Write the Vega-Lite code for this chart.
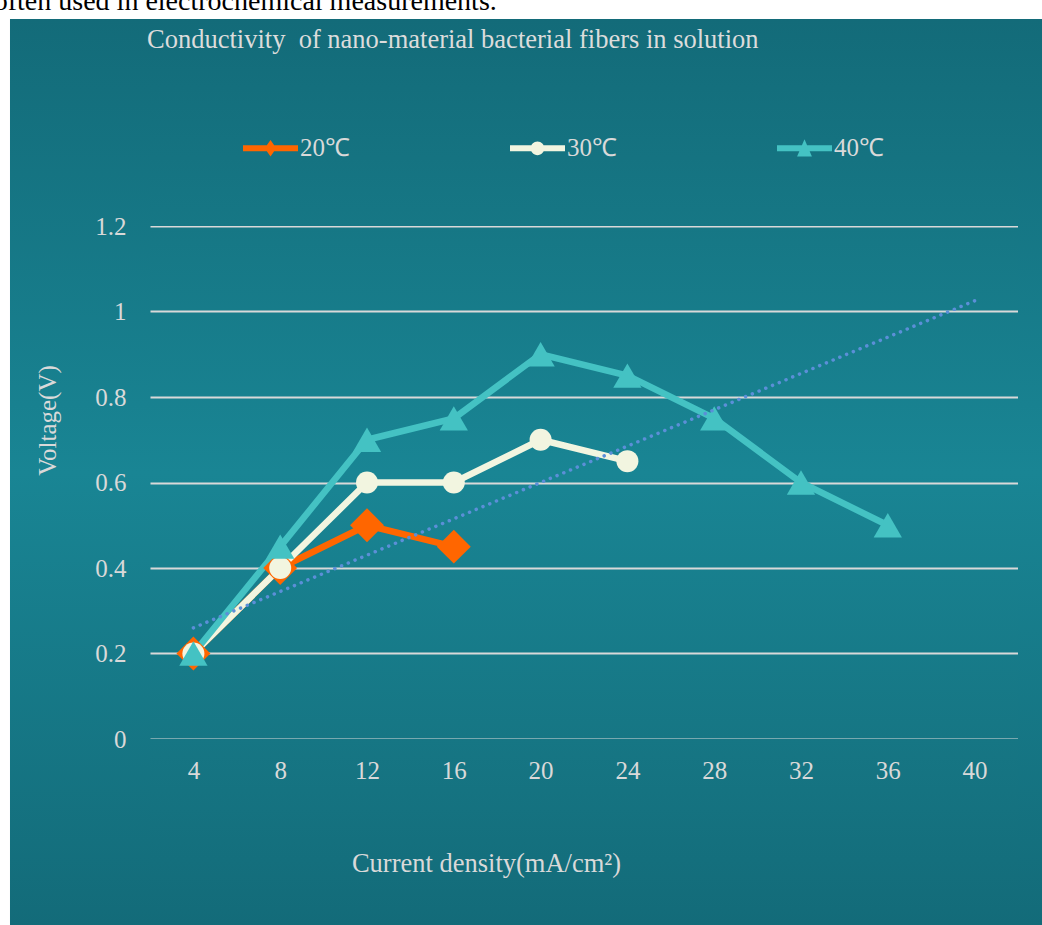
{
  "$schema": "https://vega.github.io/schema/vega-lite/v6.json",
  "width": 868,
  "height": 513,
  "autosize": {"type": "none"},
  "padding": {"left": 150, "top": 226, "right": 24, "bottom": 186},
  "background": "#ffffff",
  "config": {
    "font": "Liberation Serif",
    "view": {
      "stroke": null,
      "fill": {"gradient": "linear", "x1": 0, "y1": 0, "x2": 0, "y2": 1,
        "stops": [{"offset": 0, "color": "#167785"}, {"offset": 0.4815, "color": "#198594"}, {"offset": 1, "color": "#167684"}]}
    }
  },
  "title": {
    "text": "Conductivity\u00a0 of nano-material bacterial fibers in solution",
    "anchor": "start",
    "frame": "group",
    "font": "Liberation Serif",
    "fontSize": 26.5,
    "fontWeight": "normal",
    "color": "#dcdcdc",
    "dx": -3,
    "offset": -66
  },
  "datasets": {
    "series": [
      {"series": "20℃", "density": 4, "voltage": 0.2},
      {"series": "20℃", "density": 8, "voltage": 0.4},
      {"series": "20℃", "density": 12, "voltage": 0.5},
      {"series": "20℃", "density": 16, "voltage": 0.45},
      {"series": "30℃", "density": 4, "voltage": 0.2},
      {"series": "30℃", "density": 8, "voltage": 0.4},
      {"series": "30℃", "density": 12, "voltage": 0.6},
      {"series": "30℃", "density": 16, "voltage": 0.6},
      {"series": "30℃", "density": 20, "voltage": 0.7},
      {"series": "30℃", "density": 24, "voltage": 0.65},
      {"series": "40℃", "density": 4, "voltage": 0.2},
      {"series": "40℃", "density": 8, "voltage": 0.45},
      {"series": "40℃", "density": 12, "voltage": 0.7},
      {"series": "40℃", "density": 16, "voltage": 0.75},
      {"series": "40℃", "density": 20, "voltage": 0.9},
      {"series": "40℃", "density": 24, "voltage": 0.85},
      {"series": "40℃", "density": 28, "voltage": 0.75},
      {"series": "40℃", "density": 32, "voltage": 0.6},
      {"series": "40℃", "density": 36, "voltage": 0.5}
    ],
    "trend": [
      {"density": 4, "voltage": 0.26},
      {"density": 40, "voltage": 1.025}
    ],
    "panel": [{"part": "panel"}],
    "note": [{"text": "often used in electrochemical measurements."}]
  },
  "resolve": {"axis": {"x": "independent", "y": "independent"}, "legend": {"color": "independent"}},
  "layer": [
    {
      "data": {"name": "panel"},
      "mark": {"type": "rect", "strokeWidth": 0,
        "fill": {"gradient": "linear", "x1": 0, "y1": 0, "x2": 0, "y2": 1,
          "stops": [{"offset": 0, "color": "#136b79"}, {"offset": 0.5, "color": "#198594"}, {"offset": 1, "color": "#136b79"}]}},
      "encoding": {
        "x": {"datum": -4.452, "type": "quantitative", "scale": {"domain": [2, 42], "nice": false, "zero": false}, "axis": null},
        "x2": {"datum": 2},
        "y": {"datum": 1.684, "type": "quantitative", "scale": {"domain": [0, 1.2], "nice": false, "zero": false}, "axis": null},
        "y2": {"datum": -0.44}
      }
    },
    {
      "data": {"name": "panel"},
      "mark": {"type": "rect", "strokeWidth": 0,
        "fill": {"gradient": "linear", "x1": 0, "y1": 0, "x2": 0, "y2": 1,
          "stops": [{"offset": 0, "color": "#136b79"}, {"offset": 0.5, "color": "#198594"}, {"offset": 1, "color": "#136b79"}]}},
      "encoding": {
        "x": {"datum": 42, "type": "quantitative", "scale": {"domain": [2, 42], "nice": false, "zero": false}, "axis": null},
        "x2": {"datum": 44},
        "y": {"datum": 1.684, "type": "quantitative", "scale": {"domain": [0, 1.2], "nice": false, "zero": false}, "axis": null},
        "y2": {"datum": -0.44}
      }
    },
    {
      "data": {"name": "panel"},
      "mark": {"type": "rect", "strokeWidth": 0,
        "fill": {"gradient": "linear", "x1": 0, "y1": 0, "x2": 0, "y2": 1,
          "stops": [{"offset": 0, "color": "#136b79"}, {"offset": 1, "color": "#167785"}]}},
      "encoding": {
        "x": {"datum": 2, "type": "quantitative", "scale": {"domain": [2, 42], "nice": false, "zero": false}, "axis": null},
        "x2": {"datum": 42},
        "y": {"datum": 1.684, "type": "quantitative", "scale": {"domain": [0, 1.2], "nice": false, "zero": false}, "axis": null},
        "y2": {"datum": 1.2}
      }
    },
    {
      "data": {"name": "panel"},
      "mark": {"type": "rect", "strokeWidth": 0,
        "fill": {"gradient": "linear", "x1": 0, "y1": 0, "x2": 0, "y2": 1,
          "stops": [{"offset": 0, "color": "#167684"}, {"offset": 1, "color": "#136b79"}]}},
      "encoding": {
        "x": {"datum": 2, "type": "quantitative", "scale": {"domain": [2, 42], "nice": false, "zero": false}, "axis": null},
        "x2": {"datum": 42},
        "y": {"datum": 0, "type": "quantitative", "scale": {"domain": [0, 1.2], "nice": false, "zero": false}, "axis": null},
        "y2": {"datum": -0.44}
      }
    },
    {
      "data": {"name": "note"},
      "mark": {"type": "text", "align": "left", "baseline": "alphabetic", "font": "Liberation Serif", "fontSize": 28, "color": "#000000"},
      "encoding": {
        "x": {"datum": -5.2, "type": "quantitative", "scale": {"domain": [2, 42], "nice": false, "zero": false}, "axis": null},
        "y": {"datum": 1.7053, "type": "quantitative", "scale": {"domain": [0, 1.2], "nice": false, "zero": false}, "axis": null},
        "text": {"field": "text", "type": "nominal"}
      }
    },
    {
      "data": {"name": "series"},
      "mark": {"type": "line", "strokeWidth": 6.5},
      "encoding": {
        "x": {"field": "density", "type": "quantitative", "scale": {"domain": [2, 42], "nice": false, "zero": false},
          "axis": {"orient": "bottom", "values": [4, 8, 12, 16, 20, 24, 28, 32, 36, 40], "format": "d", "grid": false, "ticks": false, "domain": false,
            "labelFont": "Liberation Serif", "labelFontSize": 25, "labelColor": "#d9d9d9", "labelPadding": 19,
            "title": "Current density(mA/cm²)", "titleFont": "Liberation Serif", "titleFontSize": 26.5, "titleFontWeight": "normal", "titleColor": "#d9d9d9",
            "titleX": 336, "titleY": 132, "titleAlign": "center", "titleBaseline": "alphabetic", "zindex": 1}},
        "y": {"field": "voltage", "type": "quantitative", "scale": {"domain": [0, 1.2], "nice": false, "zero": false},
          "axis": {"orient": "left", "values": [0, 0.2, 0.4, 0.6, 0.8, 1, 1.2], "grid": true, "gridColor": "#d9d9d9", "gridWidth": 2, "gridOpacity": 1,
            "labels": false, "ticks": false, "domain": false, "title": null, "zindex": 0}},
        "color": {"field": "series", "type": "nominal", "scale": {"domain": ["20℃", "30℃", "40℃"], "range": ["#ff6600", "#f2f5e0", "#44c2c3"]}, "legend": null}
      }
    },
    {
      "data": {"name": "series"},
      "mark": {"type": "point", "filled": true, "opacity": 1, "strokeWidth": 0},
      "encoding": {
        "x": {"field": "density", "type": "quantitative", "scale": {"domain": [2, 42], "nice": false, "zero": false}, "axis": null},
        "y": {"field": "voltage", "type": "quantitative", "scale": {"domain": [0, 1.2], "nice": false, "zero": false},
          "axis": {"orient": "left", "values": [0, 0.2, 0.4, 0.6, 0.8, 1, 1.2], "format": "~g", "grid": false, "ticks": false, "domain": false,
            "labelFont": "Liberation Serif", "labelFontSize": 25, "labelColor": "#d9d9d9", "labelPadding": 24,
            "title": "Voltage(V)", "titleFont": "Liberation Serif", "titleFontSize": 25, "titleFontWeight": "normal", "titleColor": "#d9d9d9",
            "titleAngle": -90, "titleX": -95, "titleY": 194, "titleAlign": "center", "titleBaseline": "alphabetic", "zindex": 1}},
        "color": {"field": "series", "type": "nominal", "scale": {"domain": ["20℃", "30℃", "40℃"], "range": ["#ff6600", "#f2f5e0", "#44c2c3"]},
          "legend": {"orient": "none", "legendX": 93, "legendY": -105.5, "direction": "horizontal", "title": null,
            "symbolSize": 3025, "symbolStrokeWidth": 0, "symbolOpacity": 1,
            "labelFont": "Liberation Serif", "labelFontSize": 25, "labelColor": "#d9d9d9", "labelOffset": 2,
            "columnPadding": 160, "padding": 0,
            "encode": {"symbols": {"update": {"shape": {"signal": "datum.value === '20℃' ? 'M-1,-0.11L1,-0.11L1,0.11L-1,0.11ZM0,-0.3L0.21,0L0,0.3L-0.21,0Z' : datum.value === '30℃' ? 'M-1,-0.11L1,-0.11L1,0.11L-1,0.11ZM-0.25,0A0.25,0.25,0,1,1,0.25,0A0.25,0.25,0,1,1,-0.25,0Z' : 'M-1,-0.11L1,-0.11L1,0.11L-1,0.11ZM0,-0.33L0.27,0.3L-0.27,0.3Z'"}}}}}},
        "shape": {"field": "series", "type": "nominal", "scale": {"domain": ["20℃", "30℃", "40℃"], "range": ["diamond", "circle", "triangle-up"]}, "legend": null},
        "size": {"field": "series", "type": "nominal", "scale": {"type": "ordinal", "domain": ["20℃", "30℃", "40℃"], "range": [1150, 484, 800]}, "legend": null}
      }
    },
    {
      "data": {"name": "trend"},
      "mark": {"type": "line", "stroke": "#5b8fd8", "strokeWidth": 3.5, "strokeDash": [0.1, 7.2], "strokeCap": "round"},
      "encoding": {
        "x": {"field": "density", "type": "quantitative", "scale": {"domain": [2, 42], "nice": false, "zero": false}, "axis": null},
        "y": {"field": "voltage", "type": "quantitative", "scale": {"domain": [0, 1.2], "nice": false, "zero": false}, "axis": null}
      }
    }
  ]
}
